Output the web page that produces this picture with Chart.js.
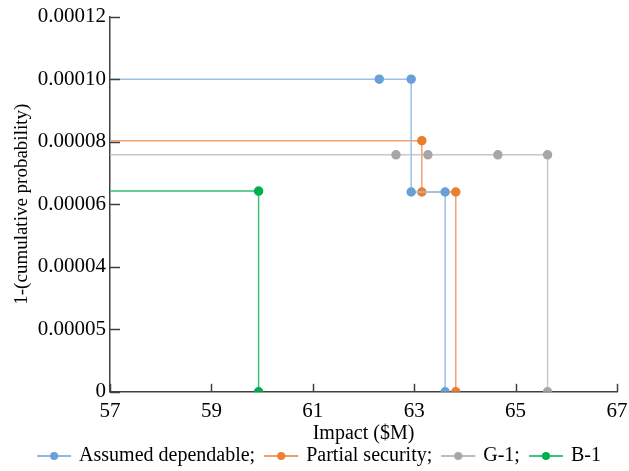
<!DOCTYPE html>
<html>
<head>
<meta charset="utf-8">
<script src="https://cdn.jsdelivr.net/npm/chart.js@4/dist/chart.umd.min.js"></script>
<style>
  html, body { margin: 0; padding: 0; background: #fff; }
  #wrap { width: 629px; height: 471px; position: relative; }
</style>
</head>
<body>
<div id="wrap"><canvas id="c"></canvas></div>
<script>
// ---- data ----
const seriesNames = ['Assumed dependable;', 'Partial security;', 'G-1;', 'B-1'];
const assumedX = [62.31, 62.94, 62.94, 63.61, 63.61];
const assumedY = [0.0001, 0.0001, 0.0000639, 0.0000639, 0];
const partialX = [63.15, 63.15, 63.82, 63.82];
const partialY = [0.0000803, 0.0000639, 0.0000639, 0];
const g1X = [62.64, 63.27, 64.65, 65.63, 65.63];
const g1Y = [0.0000758, 0.0000758, 0.0000758, 0.0000758, 0];
const b1X = [59.93, 59.93];
const b1Y = [0.0000642, 0];
const xTickValues = [57, 59, 61, 63, 65, 67];
const yTickValues = [0, 0.00002, 0.00004, 0.00006, 0.00008, 0.00010, 0.00012];
const yTickLabels = ['0', '0.00005', '0.00004', '0.00006', '0.00008', '0.00010', '0.00012'];

// ---- styles ----
const pointColors = ['#6a9fd8', '#ed7d31', '#a9a6a6', '#00b050'];
const lineColors = ['#9cc1e6', '#f0a070', '#c8c8c8', '#3cbb7a'];
const FONT = "'Liberation Serif', 'Times New Roman', serif";
const AXIS_COLOR = '#404040';

function buildSeries(xs, ys) {
  const pts = [{ x: xTickValues[0], y: ys[0] }];
  xs.forEach((x, i) => pts.push({ x: x, y: ys[i] }));
  return pts;
}
const allX = [assumedX, partialX, g1X, b1X];
const allY = [assumedY, partialY, g1Y, b1Y];

const datasets = seriesNames.map((name, i) => {
  const data = buildSeries(allX[i], allY[i]);
  return {
    label: name,
    data: data,
    showLine: true,
    borderColor: lineColors[i],
    borderWidth: 1.5,
    pointBackgroundColor: pointColors[i],
    pointBorderColor: pointColors[i],
    pointRadius: data.map((_, k) => k === 0 ? 0 : 4),
    pointHoverRadius: 4,
    fill: false,
    tension: 0
  };
});

function legendMarker(color) {
  const cv = document.createElement('canvas');
  cv.width = 36; cv.height = 10;
  const ctx = cv.getContext('2d');
  ctx.strokeStyle = color; ctx.lineWidth = 1.3;
  ctx.beginPath(); ctx.moveTo(1, 5); ctx.lineTo(35, 5); ctx.stroke();
  ctx.fillStyle = color;
  ctx.beginPath(); ctx.arc(18, 5, 4, 0, Math.PI * 2); ctx.fill();
  return cv;
}
const markers = pointColors.map(legendMarker);

const insideTicks = {
  id: 'insideTicks',
  afterDraw(chart) {
    const ctx = chart.ctx;
    const xs = chart.scales.x, ys = chart.scales.y;
    ctx.save();
    ctx.strokeStyle = AXIS_COLOR;
    ctx.lineWidth = 1.5;
    xs.ticks.forEach(t => {
      const px = Math.round(xs.getPixelForValue(t.value)) + 0.5;
      ctx.beginPath(); ctx.moveTo(px, xs.top); ctx.lineTo(px, xs.top - 8); ctx.stroke();
    });
    ys.ticks.forEach(t => {
      const py = Math.round(ys.getPixelForValue(t.value)) + 0.5;
      ctx.beginPath(); ctx.moveTo(ys.right, py); ctx.lineTo(ys.right + 10, py); ctx.stroke();
    });
    ctx.restore();
  }
};

new Chart(document.getElementById('c'), {
  type: 'scatter',
  data: { datasets: datasets },
  options: {
    responsive: true,
    maintainAspectRatio: false,
    animation: false,
    layout: { padding: { left: 11, right: 0, top: 11, bottom: -5 } },
    plugins: {
      tooltip: { enabled: false },
      legend: {
        position: 'bottom',
        labels: {
          usePointStyle: true,
          pointStyleWidth: 30,
          padding: 11,
          color: '#000',
          font: { family: FONT, size: 20 },
          generateLabels(chart) {
            return chart.data.datasets.map((ds, i) => ({
              text: ds.label,
              pointStyle: markers[i],
              fillStyle: pointColors[i],
              strokeStyle: pointColors[i],
              lineWidth: 0,
              hidden: false,
              datasetIndex: i,
              fontColor: '#000'
            }));
          }
        }
      }
    },
    scales: {
      x: {
        type: 'linear',
        min: xTickValues[0],
        max: xTickValues[xTickValues.length - 1],
        afterBuildTicks(scale) { scale.ticks = xTickValues.map(v => ({ value: v })); },
        afterFit(scale) { scale.paddingRight = 12; },
        grid: { display: true, drawOnChartArea: false, drawTicks: false },
        border: { display: true, color: AXIS_COLOR, width: 1.5 },
        ticks: { color: '#000', font: { family: FONT, size: 21 }, padding: 7, maxRotation: 0 },
        title: { display: true, text: 'Impact ($M)', color: '#000', font: { family: FONT, size: 20, lineHeight: 1 }, padding: { top: -7, bottom: -9 } }
      },
      y: {
        type: 'linear',
        min: yTickValues[0],
        max: yTickValues[yTickValues.length - 1],
        afterBuildTicks(scale) { scale.ticks = yTickValues.map(v => ({ value: v })); },
        grid: { display: true, drawOnChartArea: false, drawTicks: false },
        border: { display: true, color: AXIS_COLOR, width: 1.5 },
        ticks: {
          color: '#000', font: { family: FONT, size: 21 }, padding: 4,
          callback: (v, idx) => yTickLabels[idx]
        },
        title: { display: true, text: '1-(cumulative probability)', color: '#000', font: { family: FONT, size: 19 }, padding: { top: 0, bottom: 0 } }
      }
    }
  },
  plugins: [insideTicks]
});
</script>
</body>
</html>
